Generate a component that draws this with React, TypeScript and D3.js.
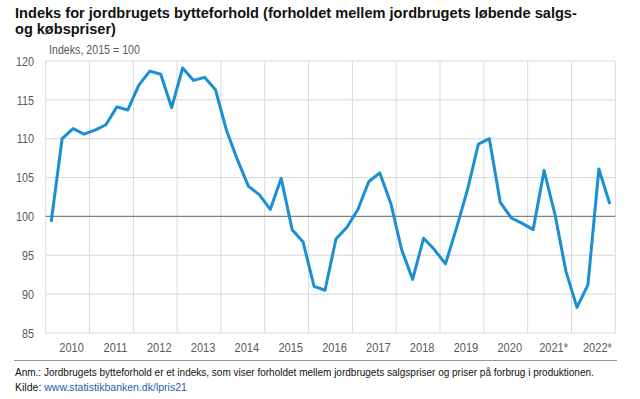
import { useEffect, useRef } from 'react';
import * as d3 from 'd3';

// Quarterly index, 2010 Q1 .. 2022 Q4 (2015 = 100)
const YEARS = ['2010', '2011', '2012', '2013', '2014', '2015', '2016', '2017', '2018', '2019', '2020', '2021*', '2022*'];
const VALUES = [
  99.3, 110.0, 111.3, 110.6,
  111.1, 111.8, 114.1, 113.7,
  116.9, 118.7, 118.3, 114.0,
  119.1, 117.5, 117.9, 116.3,
  111.1, 107.3, 103.9, 102.8,
  100.9, 104.9, 98.3, 96.7,
  91.0, 90.5, 97.1, 98.6,
  100.9, 104.5, 105.6, 101.7,
  95.7, 91.9, 97.2, 95.7,
  93.9, 98.5, 103.4, 109.3,
  110.0, 101.8, 99.8, 99.1,
  98.3, 105.9, 100.2, 92.9,
  88.3, 91.2, 106.1, 101.6,
];
const Y_TICKS = [85, 90, 95, 100, 105, 110, 115, 120];

const W = 640;
const H = 399;
const FONT = '"Liberation Sans", Arial, sans-serif';
const LINE_BLUE = '#1a8fd3';

type Sel = d3.Selection<SVGTextElement, unknown, null, undefined>;

// Arial Narrow is not available: squeeze regular glyphs horizontally instead.
function placeText(sel: Sel, x: number, y: number, sx: number) {
  sel.attr('x', 0).attr('y', 0).attr('transform', `translate(${x},${y}) scale(${sx},1)`);
}
function fitText(sel: Sel, x: number, y: number, width: number) {
  const len = sel.node()!.getComputedTextLength();
  placeText(sel, x, y, len > 0 ? width / len : 1);
}

export default function App() {
  const svgRef = useRef<SVGSVGElement>(null);

  useEffect(() => {
    if (!svgRef.current) return;
    const root = d3.select(svgRef.current);
    root.selectAll('*').remove();
    const svg = root as unknown as d3.Selection<SVGSVGElement, unknown, null, undefined>;

    const left = 45.7;
    const right = 615.3;
    const top = 61;
    const bottom = 333;

    const x = d3.scaleBand<number>()
      .domain(d3.range(VALUES.length))
      .range([left, right]);
    const y = d3.scaleLinear().domain([85, 120]).range([bottom, top]);
    const step = x.step();

    svg.append('rect').attr('width', W).attr('height', H).attr('fill', '#fff');

    // Title
    const t1 = svg.append('text')
      .attr('font-family', FONT).attr('font-weight', 'bold').attr('font-size', 14).attr('fill', '#111')
      .text('Indeks for jordbrugets bytteforhold (forholdet mellem jordbrugets løbende salgs-');
    fitText(t1 as unknown as Sel, 15, 18.3, 562);
    const t2 = svg.append('text')
      .attr('font-family', FONT).attr('font-weight', 'bold').attr('font-size', 14).attr('fill', '#111')
      .text('og købspriser)');
    fitText(t2 as unknown as Sel, 15, 34, 101);

    const sub = svg.append('text')
      .attr('font-family', FONT).attr('font-size', 12.5).attr('fill', '#595959')
      .text('Indeks, 2015 = 100');
    fitText(sub as unknown as Sel, 49, 53.5, 91);

    // Grid
    const grid = svg.append('g');
    grid.selectAll('line.h')
      .data(Y_TICKS.filter((t) => t !== 100))
      .join('line')
      .attr('x1', left).attr('x2', right)
      .attr('y1', (d) => y(d)).attr('y2', (d) => y(d))
      .attr('stroke', '#d9d9d9').attr('stroke-width', 1);
    grid.selectAll('line.v')
      .data(d3.range(YEARS.length + 1))
      .join('line')
      .attr('x1', (i) => left + i * 4 * step).attr('x2', (i) => left + i * 4 * step)
      .attr('y1', top).attr('y2', bottom)
      .attr('stroke', '#d9d9d9').attr('stroke-width', 1);
    svg.append('line')
      .attr('x1', left).attr('x2', right)
      .attr('y1', y(100)).attr('y2', y(100))
      .attr('stroke', '#7f7f7f').attr('stroke-width', 1.3);

    // Y labels
    const yl = svg.append('g');
    Y_TICKS.forEach((d) => {
      const t = yl.append('text')
        .attr('text-anchor', 'end').attr('dy', '0.35em')
        .attr('font-family', FONT).attr('font-size', 13.5).attr('fill', '#595959')
        .text(String(d));
      placeText(t as unknown as Sel, 34, y(d), 0.8);
    });

    // X labels
    const xl = svg.append('g');
    YEARS.forEach((d, i) => {
      const t = xl.append('text')
        .attr('text-anchor', 'middle')
        .attr('font-family', FONT).attr('font-size', 13.5).attr('fill', '#595959')
        .text(d);
      placeText(t as unknown as Sel, left + (i * 4 + 2) * step + 4, 351.5, 0.82);
    });

    // Line
    const line = d3.line<number>()
      .x((_, i) => (x(i) ?? 0) + step / 2)
      .y((d) => y(d));
    svg.append('path')
      .datum(VALUES)
      .attr('d', line)
      .attr('fill', 'none')
      .attr('stroke', LINE_BLUE)
      .attr('stroke-width', 3)
      .attr('stroke-linejoin', 'round');

    // Footer
    svg.append('line')
      .attr('x1', 14).attr('x2', 617)
      .attr('y1', 360.5).attr('y2', 360.5)
      .attr('stroke', '#8a99ad').attr('stroke-width', 1.2);
    const note = svg.append('text')
      .attr('font-family', FONT).attr('font-size', 11.5).attr('fill', '#111')
      .text('Anm.: Jordbrugets bytteforhold er et indeks, som viser forholdet mellem jordbrugets salgspriser og priser på forbrug i produktionen.');
    fitText(note as unknown as Sel, 15, 375.5, 580);
    const src = svg.append('text')
      .attr('font-family', FONT).attr('font-size', 11.5);
    src.append('tspan').attr('fill', '#111').text('Kilde: ');
    src.append('tspan').attr('fill', '#1f5fae').text('www.statistikbanken.dk/lpris21');
    fitText(src as unknown as Sel, 15, 391, 172);
  }, []);

  return (
    <svg
      ref={svgRef}
      width={W}
      height={H}
      style={{ position: 'absolute', left: 0, top: 0, display: 'block' }}
    />
  );
}
